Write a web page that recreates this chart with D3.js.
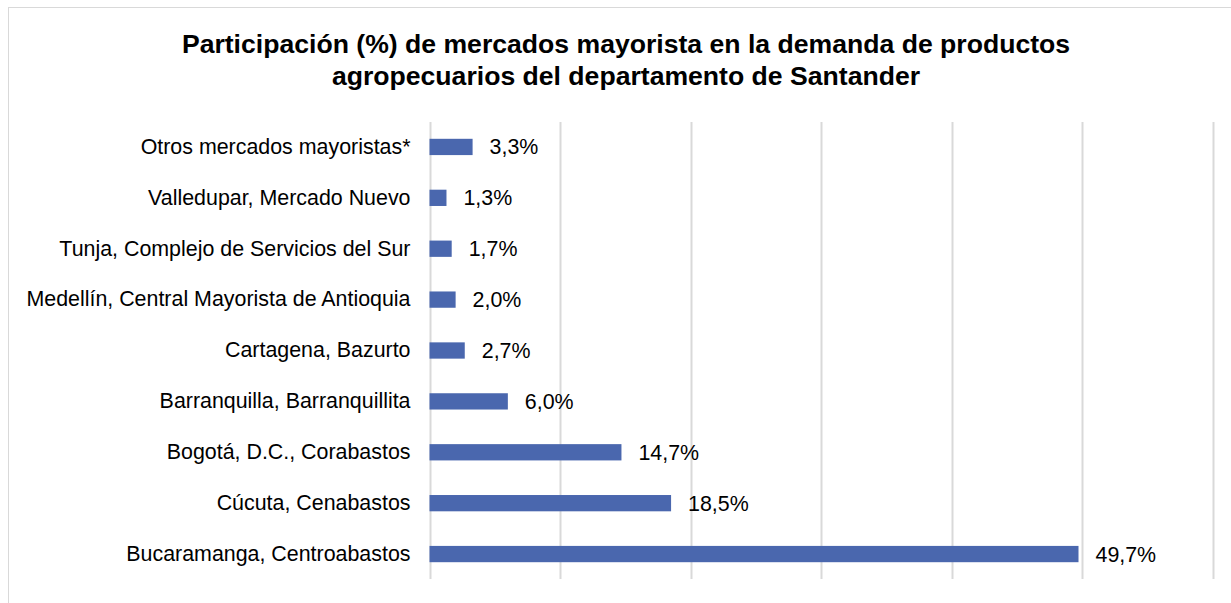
<!DOCTYPE html>
<html>
<head>
<meta charset="utf-8">
<script src="https://cdn.jsdelivr.net/npm/d3@7"></script>
<style>
  html, body { margin: 0; padding: 0; background: #fff; }
  svg { display: block; font-family: "Liberation Sans", Arial, sans-serif; }
</style>
</head>
<body>
<div id="chart"></div>
<script>
// Data
const categories = [
  'Otros mercados mayoristas*',
  'Valledupar, Mercado Nuevo',
  'Tunja, Complejo de Servicios del Sur',
  'Medellín, Central Mayorista de Antioquia',
  'Cartagena, Bazurto',
  'Barranquilla, Barranquillita',
  'Bogotá, D.C., Corabastos',
  'Cúcuta, Cenabastos',
  'Bucaramanga, Centroabastos'
];
const values = [3.3, 1.3, 1.7, 2.0, 2.7, 6.0, 14.7, 18.5, 49.7];
const gridTicks = [0, 10, 20, 30, 40, 50, 60];
const titleLines = [
  'Participación (%) de mercados mayorista en la demanda de productos',
  'agropecuarios del departamento de Santander'
];

const width = 1231, height = 603;
const svg = d3.select('#chart').append('svg')
  .attr('width', width).attr('height', height);

// outer chart border
svg.append('rect')
  .attr('x', 8.5).attr('y', 7.5)
  .attr('width', width + 10).attr('height', height + 10)
  .attr('fill', '#fff').attr('stroke', '#d9d9d9');

// title
svg.append('g').selectAll('text')
  .data(titleLines)
  .join('text')
  .attr('x', 626)
  .attr('y', (d, i) => 53 + i * 32)
  .attr('text-anchor', 'middle')
  .attr('font-size', 26.6)
  .attr('font-weight', 'bold')
  .attr('fill', '#000')
  .text(d => d);

const x = d3.scaleLinear().domain([0, 60]).range([429.5, 1213]);
const y = d3.scaleBand().domain(categories).range([121.5, 579.5])
  .paddingInner(0.68).paddingOuter(0.34);

// vertical gridlines
svg.append('g').selectAll('line')
  .data(gridTicks)
  .join('line')
  .attr('x1', d => Math.round(x(d)) + 0.5).attr('x2', d => Math.round(x(d)) + 0.5)
  .attr('y1', 122).attr('y2', 579)
  .attr('stroke', '#d9d9d9').attr('stroke-width', 2);

// bars
svg.append('g').selectAll('rect')
  .data(values)
  .join('rect')
  .attr('x', x(0))
  .attr('y', (d, i) => y(categories[i]))
  .attr('width', d => x(d) - x(0))
  .attr('height', y.bandwidth())
  .attr('fill', '#4a67ae');

// category labels
const yAxis = svg.append('g')
  .attr('transform', `translate(${x(0)},0)`)
  .call(d3.axisLeft(y).tickSize(0).tickPadding(19));
yAxis.select('.domain').remove();
yAxis.selectAll('text')
  .attr('font-size', 21.4)
  .attr('font-family', '"Liberation Sans", Arial, sans-serif')
  .attr('fill', '#000');

// value labels
svg.append('g').selectAll('text')
  .data(values)
  .join('text')
  .attr('x', d => x(d) + 17)
  .attr('y', (d, i) => y(categories[i]) + y.bandwidth() / 2)
  .attr('dy', '0.35em')
  .attr('font-size', 21.4)
  .attr('fill', '#000')
  .text(d => d3.format('.1f')(d).replace('.', ',') + '%');
</script>
</body>
</html>
